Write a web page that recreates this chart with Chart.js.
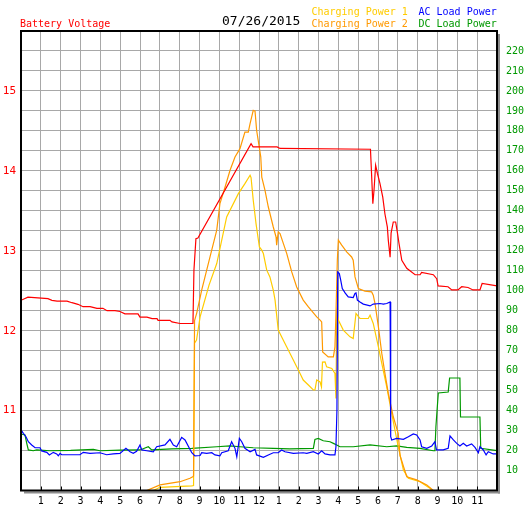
<!DOCTYPE html>
<html>
<head>
<meta charset="utf-8">
<title>Battery / Power 07/26/2015</title>
<script src="https://cdn.jsdelivr.net/npm/chart.js@4.4.1/dist/chart.umd.min.js"></script>
<style>
  html, body { margin: 0; padding: 0; background: #fff; }
  canvas { display: block; }
</style>
</head>
<body>
<canvas id="chart" width="527" height="510"></canvas>
<script>
// header texts
const dateLabel = '07/26/2015';
const voltageTitle = 'Battery Voltage';
const seriesNames = ['Charging Power 1', 'Charging Power 2', 'AC Load Power', 'DC Load Power'];

// tick labels
const hourLabels = ['', '1', '2', '3', '4', '5', '6', '7', '8', '9', '10', '11', '12',
                    '1', '2', '3', '4', '5', '6', '7', '8', '9', '10', '11', ''];
const voltTickLabels = ['11', '12', '13', '14', '15'];
const powerTickLabels = ['10', '20', '30', '40', '50', '60', '70', '80', '90', '100', '110',
                         '120', '130', '140', '150', '160', '170', '180', '190', '200', '210', '220'];

// [hour, volts]
const batteryVoltage = [
  [0, 12.38], [0.35, 12.42], [1.36, 12.40], [1.56, 12.38], [1.82, 12.37], [2.32, 12.37],
  [2.57, 12.35], [2.87, 12.33], [3.13, 12.30], [3.48, 12.30], [3.83, 12.28], [4.13, 12.28],
  [4.34, 12.25], [4.74, 12.25], [4.99, 12.24], [5.24, 12.21], [5.90, 12.21], [6.00, 12.17],
  [6.35, 12.17], [6.61, 12.15], [6.86, 12.15], [6.91, 12.13], [7.51, 12.13], [7.61, 12.11],
  [8.02, 12.09], [8.67, 12.09], [8.72, 12.76], [8.82, 13.15], [8.92, 13.16], [11.60, 14.34],
  [11.70, 14.30], [12.91, 14.30], [13.06, 14.28], [17.62, 14.27], [17.66, 14.05], [17.74, 13.59],
  [17.80, 13.76], [17.88, 14.07], [17.97, 13.97], [18.10, 13.84], [18.24, 13.67], [18.35, 13.46],
  [18.47, 13.30], [18.52, 13.13], [18.61, 12.92], [18.66, 13.22], [18.77, 13.36], [18.89, 13.36],
  [18.97, 13.24], [19.06, 13.09], [19.20, 12.88], [19.45, 12.78], [19.87, 12.70], [20.12, 12.70],
  [20.20, 12.73], [20.79, 12.70], [20.96, 12.65], [21.03, 12.56], [21.53, 12.55], [21.72, 12.51],
  [22.03, 12.51], [22.22, 12.55], [22.54, 12.54], [22.79, 12.51], [23.14, 12.51], [23.25, 12.59],
  [24.0, 12.56]
];

// [hour, watts]
const chargingPower1 = [
  [6.67, 0], [7.01, 1.6], [8.61, 2.3], [8.70, 2.5], [8.75, 73.8], [8.85, 75.3], [9.03, 86.9],
  [9.48, 102.8], [9.87, 113.6], [10.37, 136.9], [10.96, 148.6], [11.29, 153.6], [11.55, 157.8],
  [11.60, 156.6], [11.71, 145.3], [11.85, 133.6], [12.02, 121.9], [12.14, 120.3], [12.22, 118.6],
  [12.39, 110.3], [12.55, 106.9], [12.72, 100.3], [12.81, 95.3], [12.97, 80.3], [13.31, 73.6],
  [13.73, 65.3], [14.07, 58.6], [14.23, 55.3], [14.49, 52.8], [14.74, 50.3], [14.82, 50.3],
  [14.91, 55.3], [15.08, 54.3], [15.15, 51.8], [15.20, 64.3], [15.33, 64.4], [15.41, 61.9],
  [15.67, 61.1], [15.83, 58.6], [15.88, 46.1], [15.92, 89.4], [16.00, 85.3], [16.25, 80.3],
  [16.59, 76.9], [16.75, 76.1], [16.89, 88.6], [17.09, 86.1], [17.51, 86.1], [17.60, 87.8],
  [17.76, 83.6], [18.02, 71.9], [18.19, 63.6], [18.44, 51.9], [18.69, 38.6], [19.02, 21.9],
  [19.28, 10.3], [19.53, 6.1], [20.12, 4.4], [20.62, 1.1], [20.71, 0]
];

const chargingPower2 = [
  [6.34, 0], [7.01, 2.8], [8.02, 4.4], [8.52, 6.1], [8.66, 6.9], [8.70, 7.3], [8.75, 85.0],
  [8.86, 88.8], [9.11, 100.3], [9.53, 116.9], [9.87, 130.3], [10.03, 143.6], [10.29, 151.9],
  [10.54, 160.3], [10.79, 166.9], [11.04, 171.1], [11.29, 179.4], [11.46, 179.4], [11.55, 183.6],
  [11.71, 190.3], [11.80, 189.9], [11.88, 180.3], [11.96, 175.3], [12.09, 166.9], [12.14, 156.9],
  [12.30, 150.3], [12.47, 141.9], [12.72, 131.9], [12.86, 126.9], [12.89, 122.8], [12.97, 129.4],
  [13.06, 128.6], [13.23, 123.6], [13.40, 118.6], [13.65, 109.4], [13.90, 101.9], [14.23, 95.3],
  [14.49, 91.9], [14.91, 86.9], [15.08, 85.3], [15.16, 84.4], [15.21, 69.4], [15.49, 66.9],
  [15.75, 66.9], [15.83, 71.9], [15.88, 88.6], [15.95, 115.3], [16.00, 125.3], [16.17, 122.8],
  [16.42, 119.4], [16.67, 116.9], [16.75, 115.3], [16.84, 106.9], [17.01, 101.1], [17.34, 99.8],
  [17.68, 99.4], [17.76, 97.8], [17.85, 93.6], [18.02, 81.9], [18.19, 68.6], [18.35, 58.6],
  [18.52, 48.6], [18.77, 36.9], [19.02, 28.6], [19.11, 17.5], [19.45, 6.9], [19.95, 5.3],
  [20.46, 2.8], [20.79, 0]
];

const acLoadPower = [
  [0, 30.3], [0.12, 28.6], [0.25, 26.9], [0.37, 24.4], [0.54, 22.8], [0.71, 21.4], [0.96, 21.4],
  [1.04, 19.8], [1.30, 19.1], [1.43, 17.8], [1.63, 19.1], [1.80, 18.3], [1.88, 17.4], [1.97, 18.6],
  [2.05, 17.9], [2.97, 17.9], [3.14, 19.1], [3.48, 18.6], [3.98, 18.9], [4.32, 17.9], [4.65, 18.3],
  [4.99, 18.6], [5.29, 21.1], [5.50, 19.4], [5.66, 18.6], [5.83, 19.6], [6.00, 22.8], [6.09, 20.3],
  [6.34, 19.9], [6.67, 19.4], [6.84, 21.9], [7.26, 22.8], [7.51, 25.6], [7.68, 22.8], [7.85, 21.9],
  [8.10, 26.6], [8.27, 25.3], [8.49, 21.1], [8.61, 18.9], [8.77, 17.3], [9.03, 17.5], [9.11, 18.9],
  [9.36, 18.6], [9.62, 18.9], [9.78, 17.8], [10.03, 17.3], [10.12, 18.9], [10.45, 19.9],
  [10.62, 24.4], [10.79, 21.1], [10.88, 16.9], [11.01, 26.1], [11.13, 24.4], [11.29, 21.1],
  [11.55, 19.4], [11.80, 20.6], [11.88, 17.8], [12.22, 16.6], [12.47, 17.8], [12.72, 18.9],
  [12.97, 18.9], [13.14, 20.3], [13.31, 19.4], [13.73, 18.6], [14.23, 18.9], [14.41, 18.6],
  [14.74, 19.4], [14.99, 18.3], [15.16, 19.9], [15.33, 18.3], [15.58, 17.8], [15.83, 17.8],
  [15.88, 21.9], [15.93, 40.3], [15.97, 109.4], [16.05, 108.6], [16.12, 105.3], [16.20, 101.1],
  [16.34, 98.9], [16.50, 96.9], [16.75, 96.6], [16.84, 98.6], [16.89, 98.9], [16.96, 95.3],
  [17.09, 94.4], [17.26, 93.3], [17.60, 92.4], [17.76, 93.3], [18.10, 93.6], [18.27, 93.3],
  [18.44, 93.6], [18.61, 94.4], [18.64, 26.9], [18.69, 25.3], [18.94, 26.1], [19.28, 25.6],
  [19.53, 26.9], [19.78, 28.3], [19.95, 27.8], [20.12, 25.3], [20.20, 21.9], [20.46, 21.1],
  [20.71, 22.3], [20.87, 24.4], [20.95, 20.3], [21.29, 20.3], [21.54, 21.1], [21.63, 27.3],
  [21.80, 25.3], [21.97, 23.6], [22.13, 22.3], [22.30, 23.6], [22.47, 22.3], [22.72, 23.3],
  [22.89, 21.6], [23.06, 18.9], [23.14, 21.9], [23.31, 20.3], [23.45, 17.8], [23.56, 19.4],
  [23.81, 18.3], [24.0, 18.3]
];

const dcLoadPower = [
  [0, 28.3], [0.20, 27.8], [0.29, 23.6], [0.37, 20.3], [0.62, 19.9], [0.79, 20.3], [1.46, 19.9],
  [2.50, 20.1], [3.65, 20.6], [3.98, 19.9], [5.00, 20.2], [6.00, 20.3], [6.42, 21.9], [6.59, 20.3],
  [7.60, 20.8], [8.61, 21.1], [9.87, 21.9], [10.54, 22.3], [11.04, 21.9], [11.71, 21.4],
  [12.72, 21.1], [13.56, 20.8], [14.74, 21.1], [14.82, 25.6], [14.99, 26.1], [15.24, 24.9],
  [15.58, 24.4], [15.75, 23.6], [15.92, 22.8], [16.08, 21.9], [16.75, 21.9], [17.60, 22.8],
  [18.44, 21.9], [18.94, 22.3], [19.45, 21.6], [20.12, 21.1], [20.79, 19.9], [20.87, 19.9],
  [20.92, 31.9], [21.04, 48.8], [21.54, 49.3], [21.61, 56.3], [22.13, 56.3], [22.16, 36.8],
  [23.14, 36.8], [23.18, 21.1], [24.0, 20.0]
];

const pts = arr => arr.map(([x, y]) => ({ x, y }));

function line(label, data, color, axis) {
  return {
    label: label,
    data: pts(data),
    borderColor: color,
    backgroundColor: color,
    borderWidth: 1.2,
    pointRadius: 0,
    tension: 0,
    fill: false,
    yAxisID: axis
  };
}

const MONO = '"DejaVu Sans Mono", "Liberation Mono", monospace';

const frame = {
  id: 'frame',
  afterDatasetsDraw(chart) {
    const { ctx, chartArea: a } = chart;
    const x = chart.scales.x;
    ctx.save();
    // small inward ticks at each hour along the bottom
    ctx.strokeStyle = '#000';
    ctx.lineWidth = 1;
    ctx.beginPath();
    for (let h = 1; h < 24; h++) {
      const px = Math.round(x.getPixelForValue(h)) + 0.5;
      ctx.moveTo(px, a.bottom - 4);
      ctx.lineTo(px, a.bottom);
    }
    ctx.stroke();
    // shadow
    ctx.fillStyle = '#8c8c8c';
    ctx.fillRect(a.right + 1, a.top + 3, 2, a.bottom - a.top);
    ctx.fillRect(a.left + 3, a.bottom + 1, a.right - a.left, 2);
    // frame
    ctx.strokeStyle = '#000';
    ctx.lineWidth = 2;
    ctx.strokeRect(a.left, a.top, a.right - a.left, a.bottom - a.top);
    ctx.restore();
  },
  afterDraw(chart) {
    const ctx = chart.ctx;
    ctx.save();
    ctx.textBaseline = 'alphabetic';
    ctx.textAlign = 'left';
    ctx.font = '10px ' + MONO;
    ctx.fillStyle = '#ff0000';
    ctx.fillText(voltageTitle, 20, 26.5);
    ctx.fillStyle = '#ffcc00';
    ctx.fillText(seriesNames[0], 311.5, 15);
    ctx.fillStyle = '#ff9900';
    ctx.fillText(seriesNames[1], 311.5, 26.5);
    ctx.fillStyle = '#0000ff';
    ctx.fillText(seriesNames[2], 418.5, 15);
    ctx.fillStyle = '#009900';
    ctx.fillText(seriesNames[3], 418.5, 26.5);
    ctx.font = '13px ' + MONO;
    ctx.fillStyle = '#000';
    ctx.fillText(dateLabel, 222, 25);
    ctx.restore();
  }
};

new Chart(document.getElementById('chart'), {
  type: 'line',
  data: {
    datasets: [
      line(voltageTitle, batteryVoltage, '#ff0000', 'yV'),
      line(seriesNames[2], acLoadPower, '#0000ff', 'yP'),
      line(seriesNames[1], chargingPower2, '#ff9900', 'yP'),
      line(seriesNames[0], chargingPower1, '#ffcc00', 'yP'),
      line(seriesNames[3], dcLoadPower, '#009900', 'yP')
    ]
  },
  options: {
    responsive: false,
    animation: false,
    devicePixelRatio: 1,
    layout: { padding: { top: 31, left: 0, right: 0, bottom: 0 } },
    plugins: {
      legend: { display: false },
      tooltip: { enabled: false }
    },
    scales: {
      x: {
        type: 'linear',
        min: 0,
        max: 24,
        grid: { color: '#a8a8a8', lineWidth: 1, drawTicks: false },
        border: { display: false },
        ticks: {
          stepSize: 1,
          autoSkip: false,
          maxRotation: 0,
          padding: 5,
          color: '#000',
          font: { family: MONO, size: 10 },
          callback: v => hourLabels[v] || ''
        },
        afterFit: s => { s.height = 19.5; }
      },
      yV: {
        position: 'left',
        min: 10,
        max: 15.75,
        grid: { color: '#a8a8a8', lineWidth: 1, drawTicks: false },
        border: { display: false },
        ticks: {
          stepSize: 0.25,
          autoSkip: false,
          padding: 5,
          color: '#ff0000',
          font: { family: MONO, size: 11 },
          callback: v => voltTickLabels.includes(String(v)) ? String(v) : ''
        },
        afterFit: s => { s.width = 21; }
      },
      yP: {
        position: 'right',
        min: 0,
        max: 230,
        grid: { display: false, drawTicks: false },
        border: { display: false },
        ticks: {
          stepSize: 10,
          autoSkip: false,
          padding: 9,
          color: '#009900',
          font: { family: MONO, size: 10 },
          callback: v => powerTickLabels.includes(String(v)) ? String(v) : ''
        },
        afterFit: s => { s.width = 30; }
      }
    }
  },
  plugins: [frame]
});
</script>
</body>
</html>
